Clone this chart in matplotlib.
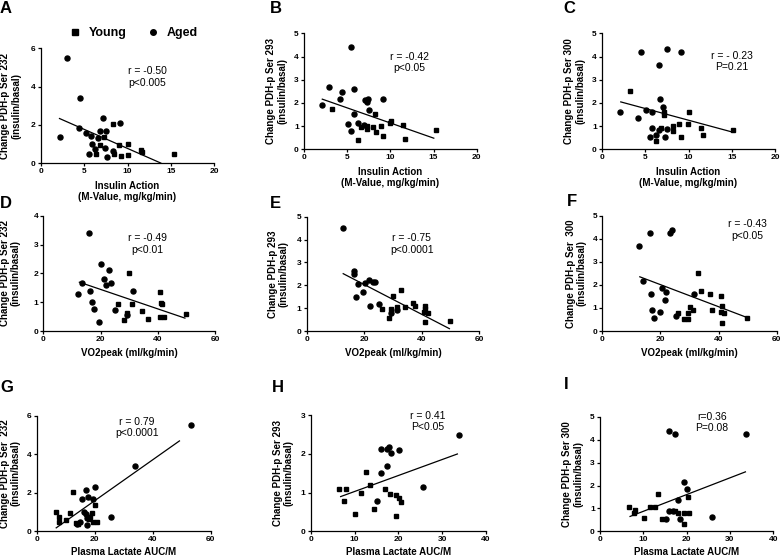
import matplotlib
matplotlib.use('Agg')
import matplotlib.pyplot as plt
from matplotlib.lines import Line2D

plt.rcParams['font.family'] = ['Liberation Sans', 'DejaVu Sans']

W, H = 781, 557

# ---- data ----
# A: Ser 232 vs insulin action
a_young_x = [8.3, 7.3, 6.8, 6.4, 8.5, 9.2, 10.0, 10.1, 11.6, 11.7, 15.3, 9.0]
a_young_y = [2.03, 1.36, 0.94, 0.49, 0.50, 0.38, 1.00, 0.43, 0.71, 0.57, 0.49, 0.94]
a_aged_x = [3.0, 4.5, 2.2, 4.4, 5.2, 5.8, 5.9, 5.6, 6.6, 6.8, 7.2, 7.5, 7.4, 7.6, 9.1, 8.3, 6.3]
a_aged_y = [5.48, 3.39, 1.39, 1.83, 1.60, 1.43, 1.00, 0.50, 1.34, 1.69, 2.35, 1.69, 0.80, 0.31, 2.12, 0.64, 0.77]
a_fit_x, a_fit_y = [2.1, 13.9], [2.35, 0.0]

# B: Ser 293 vs insulin action
b_young_x = [3.2, 8.2, 6.2, 6.6, 7.3, 7.3, 8.0, 8.3, 8.9, 9.1, 10.0, 10.1, 11.5, 11.7, 15.3]
b_young_y = [1.75, 1.52, 0.40, 0.96, 1.00, 0.89, 0.96, 0.75, 1.00, 0.57, 1.15, 1.22, 1.06, 0.45, 0.82]
b_aged_x = [5.5, 2.1, 2.9, 4.4, 4.2, 5.8, 5.8, 5.1, 5.5, 6.2, 7.1, 7.3, 7.45, 7.5, 9.1, 6.9]
b_aged_y = [4.43, 1.91, 2.67, 2.49, 2.18, 2.60, 1.51, 1.09, 0.79, 1.15, 2.11, 2.03, 2.16, 1.70, 2.16, 1.05]
b_fit_x, b_fit_y = [2.05, 15.1], [2.17, 0.47]

# C: Ser 300 vs insulin action
c_young_x = [3.2, 7.2, 7.2, 6.2, 6.8, 8.25, 8.25, 8.9, 9.1, 9.9, 10.05, 11.45, 11.7, 15.2]
c_young_y = [2.51, 1.62, 1.48, 0.36, 0.92, 1.02, 0.80, 1.09, 0.53, 1.08, 1.61, 0.90, 0.60, 0.82]
c_aged_x = [4.5, 7.5, 9.1, 6.55, 2.1, 4.2, 5.05, 5.8, 6.7, 7.1, 5.8, 5.5, 6.2, 6.6, 7.3, 7.5]
c_aged_y = [4.21, 4.32, 4.21, 3.62, 1.60, 1.36, 1.70, 1.61, 2.16, 1.81, 0.92, 0.55, 0.63, 0.83, 0.55, 0.86]
c_fit_x, c_fit_y = [2.1, 15.2], [2.05, 0.73]

# D: Ser 232 vs VO2peak
d_young_x = [26.0, 30.0, 28.2, 29.1, 31.1, 34.4, 36.7, 40.8, 41.1, 41.4, 40.9, 42.1, 49.9]
d_young_y = [0.95, 2.02, 0.37, 0.64, 0.95, 0.69, 0.43, 1.34, 0.98, 0.94, 0.49, 0.49, 0.58]
d_aged_x = [16.1, 12.1, 13.5, 16.4, 16.9, 17.7, 19.5, 20.3, 21.2, 21.8, 22.8, 23.7, 24.9, 29.1, 31.3]
d_aged_y = [3.39, 1.29, 1.68, 1.40, 1.02, 0.77, 0.31, 2.32, 1.79, 1.58, 2.12, 1.65, 0.74, 0.54, 1.38]
d_fit_x, d_fit_y = [12.4, 49.7], [1.70, 0.44]

# E: Ser 293 vs VO2peak
e_young_x = [26.2, 28.5, 29.2, 30.1, 31.4, 32.8, 34.1, 36.9, 37.7, 41.0, 41.1, 40.9, 41.0, 42.0, 49.9]
e_young_y = [0.95, 0.58, 0.98, 1.53, 1.06, 1.78, 1.03, 1.21, 1.09, 1.08, 0.96, 0.85, 0.41, 0.77, 0.44]
e_aged_x = [12.5, 16.6, 16.6, 17.3, 18.0, 19.7, 20.4, 21.5, 22.0, 22.9, 23.9, 25.0, 29.2, 31.5]
e_aged_y = [4.49, 2.62, 2.49, 1.50, 2.06, 1.69, 2.11, 2.23, 1.09, 2.14, 2.16, 1.17, 0.80, 0.92]
e_fit_x, e_fit_y = [12.5, 49.8], [2.52, 0.09]

# F: Ser 300 vs VO2peak
f_young_x = [26.1, 28.2, 29.4, 29.4, 30.2, 31.2, 32.9, 33.9, 36.9, 37.9, 40.9, 41.3, 40.9, 41.2, 42.0, 49.9]
f_young_y = [0.80, 0.52, 0.80, 0.52, 1.04, 0.90, 2.50, 1.73, 1.62, 0.91, 1.52, 1.10, 0.84, 0.36, 0.78, 0.58]
f_aged_x = [12.5, 16.4, 23.2, 23.9, 13.9, 16.6, 17.2, 17.9, 19.8, 20.6, 21.9, 21.4, 25.2, 31.4]
f_aged_y = [3.67, 4.23, 4.23, 4.38, 2.18, 1.60, 0.90, 0.55, 0.84, 1.85, 1.69, 1.36, 0.65, 1.60]
f_fit_x, f_fit_y = [12.7, 49.9], [2.36, 0.58]

# G: Ser 232 vs plasma lactate
g_young_x = [6.55, 7.8, 7.6, 10.1, 11.4, 12.6, 13.4, 14.4, 18.4, 19.2, 20.0, 19.5, 20.7, 17.9]
g_young_y = [1.00, 0.73, 0.48, 0.57, 0.97, 2.04, 0.43, 0.40, 0.76, 0.97, 1.37, 0.47, 0.47, 0.62]
g_aged_x = [53.2, 33.8, 25.7, 20.1, 17.1, 17.8, 15.7, 19.4, 16.2, 16.9, 17.5, 17.2, 15.1, 13.9]
g_aged_y = [5.50, 3.41, 0.76, 2.32, 2.13, 1.80, 1.66, 1.66, 1.02, 0.90, 0.67, 0.33, 0.47, 0.38]
g_fit_x, g_fit_y = [6.55, 49.4], [0.16, 4.71]

# H: Ser 293 vs plasma lactate
h_young_x = [6.5, 8.0, 7.7, 10.2, 11.5, 12.6, 13.5, 14.4, 16.9, 18.0, 19.5, 20.2, 20.6, 19.5]
h_young_y = [1.09, 1.09, 0.79, 0.44, 1.00, 1.53, 1.19, 0.57, 1.08, 0.97, 0.94, 0.87, 0.75, 0.40]
h_aged_x = [33.8, 25.7, 16.0, 17.3, 17.9, 18.4, 20.1, 17.3, 16.1, 15.2]
h_aged_y = [2.48, 1.15, 2.13, 2.13, 2.18, 2.03, 2.11, 1.69, 1.50, 0.77]
h_fit_x, h_fit_y = [6.7, 33.6], [0.89, 2.00]

# I: Ser 300 vs plasma lactate
i_young_x = [6.6, 8.0, 7.8, 10.1, 11.5, 12.6, 13.5, 14.3, 17.4, 18.0, 19.5, 19.5, 20.2, 20.6]
i_young_y = [1.08, 0.92, 0.79, 0.58, 1.08, 1.05, 1.62, 0.52, 0.90, 0.79, 0.79, 0.34, 1.52, 0.79]
i_aged_x = [16.0, 17.2, 33.8, 19.5, 20.1, 17.9, 25.8, 18.5, 16.0, 16.9, 15.2]
i_aged_y = [4.37, 4.24, 4.26, 2.17, 1.85, 1.37, 0.64, 0.54, 0.90, 0.87, 0.52]
i_fit_x, i_fit_y = [6.8, 33.7], [0.64, 2.61]

insulin_label = 'Insulin Action\n(M-Value, mg/kg/min)'
vo2_label = 'VO2peak (ml/kg/min)'
lactate_label = 'Plasma Lactate AUC/M'

fig = plt.figure(figsize=(W / 100, H / 100), dpi=100)


def px_box(l, r, t, b):
    return [l / W, 1 - b / H, (r - l) / W, (b - t) / H]


def panel(box, ax_data, fit, xmax, xstep, ymax, ystep, xlabel, ylabel, ylab_off, xlab_off=17.5):
    l, r, t, b = box
    ax = fig.add_axes(px_box(l, r, t, b))
    yx_, yy_, ax_, ay_ = ax_data
    ax.plot(fit[0], fit[1], color='black', lw=0.9, solid_capstyle='butt')
    ax.plot(yx_, yy_, 's', color='black', ms=3.5, clip_on=False)
    ax.plot(ax_, ay_, 'o', color='black', ms=3.6, clip_on=False)
    ax.set_xlim(0, xmax)
    ax.set_ylim(0, ymax)
    ax.set_xticks(range(0, xmax + 1, xstep))
    ax.set_yticks(range(0, ymax + 1, ystep))
    for s in ['top', 'right']:
        ax.spines[s].set_visible(False)
    for s in ['left', 'bottom']:
        ax.spines[s].set_linewidth(0.9)
    ax.tick_params(length=2.2, width=0.9, pad=1.5, labelsize=6)
    for lab in ax.get_xticklabels() + ax.get_yticklabels():
        lab.set_fontweight('bold')
    ax.set_xlabel(xlabel, fontsize=7, fontweight='bold', va='top', linespacing=1.15)
    ax.xaxis.set_label_coords(0.5, -xlab_off / (b - t))
    ax.set_ylabel(ylabel, fontsize=7, fontweight='bold', va='center', linespacing=1.15)
    ax.yaxis.set_label_coords(-ylab_off / (r - l), 0.5)
    return ax


panel((40.7, 214.3, 48.3, 163.3), (a_young_x, a_young_y, a_aged_x, a_aged_y), (a_fit_x, a_fit_y),
      20, 5, 6, 2, insulin_label, 'Change PDH-p Ser 232\n(insulin/basal)', 30)
panel((304, 476.7, 33.3, 149.3), (b_young_x, b_young_y, b_aged_x, b_aged_y), (b_fit_x, b_fit_y),
      20, 5, 5, 1, insulin_label, 'Change PDH-p Ser 293\n(insulin/basal)', 27.5)
panel((602, 775, 33.3, 149.3), (c_young_x, c_young_y, c_aged_x, c_aged_y), (c_fit_x, c_fit_y),
      20, 5, 5, 1, insulin_label, 'Change PDH-p Ser 300\n(insulin/basal)', 27)
panel((43.3, 215, 215.7, 331), (d_young_x, d_young_y, d_aged_x, d_aged_y), (d_fit_x, d_fit_y),
      60, 20, 4, 1, vo2_label, 'Change PDH-p Ser 232\n(insulin/basal)', 33)
panel((306.7, 479.3, 216.7, 331), (e_young_x, e_young_y, e_aged_x, e_aged_y), (e_fit_x, e_fit_y),
      60, 20, 5, 1, vo2_label, 'Change PDH-p 293\n(insulin/basal)', 28.4)
panel((602.3, 776.7, 215.7, 331), (f_young_x, f_young_y, f_aged_x, f_aged_y), (f_fit_x, f_fit_y),
      60, 20, 5, 1, vo2_label, 'Change PDH-p Ser  300\n(insulin/basal)', 26)
panel((36.7, 210.7, 415.7, 531.3), (g_young_x, g_young_y, g_aged_x, g_aged_y), (g_fit_x, g_fit_y),
      60, 20, 6, 2, lactate_label, 'Change PDH-p Ser  232\n(insulin/basal)', 26.5, 15.5)
panel((310.7, 486, 415, 531.3), (h_young_x, h_young_y, h_aged_x, h_aged_y), (h_fit_x, h_fit_y),
      40, 10, 3, 1, lactate_label, 'Change PDH-p Ser 293\n(insulin/basal)', 27.4, 15.5)
panel((600, 773.3, 417, 531.3), (i_young_x, i_young_y, i_aged_x, i_aged_y), (i_fit_x, i_fit_y),
      40, 10, 5, 1, lactate_label, 'Change PDH-p Ser 300\n(insulin/basal)', 27.3, 15.5)

# panel letters
letters = [('A', 0, 1), ('B', 270, 1), ('C', 563, 1), ('D', 0, 196), ('E', 270, 196),
           ('F', 567, 194), ('G', 0, 380), ('H', 272, 380), ('I', 564, 377)]
for s, x, y in letters:
    fig.text(x / W, 1 - y / H, s, fontsize=12, fontweight='bold', ha='left', va='top')

# correlation stats
stats = [('r = -0.50\np<0.005', 128, 77, 'left'),
         ('r = -0.42\np<0.05', 409, 62.5, 'center'),
         ('r = - 0.23\nP=0.21', 731.7, 61.7, 'center'),
         ('r = -0.49\np<0.01', 147.7, 244.2, 'center'),
         ('r = -0.75\np<0.0001', 411.7, 244.2, 'center'),
         ('r = -0.43\np<0.05', 747.7, 230, 'center'),
         ('r = 0.79\np<0.0001', 136.7, 427.5, 'center'),
         ('r = 0.41\nP<0.05', 428, 421.7, 'center'),
         ('r=0.36\nP=0.08', 711.7, 422.5, 'center')]
for s, x, y, ha in stats:
    fig.text(x / W, 1 - y / H, s, fontsize=7.5, ha=ha, va='center', linespacing=1.2, multialignment=ha)

# legend
handles = [Line2D([], [], marker='s', ls='none', color='black', ms=4),
           Line2D([], [], marker='o', ls='none', color='black', ms=4)]
fig.legend(handles, ['Young', 'Aged'], ncol=2, frameon=False, loc='center',
           bbox_to_anchor=(133 / W, 1 - 33 / H), prop={'size': 9, 'weight': 'bold'},
           handlelength=1.0, handletextpad=0.6, columnspacing=1.6)

fig.savefig('out.png', dpi=100)
